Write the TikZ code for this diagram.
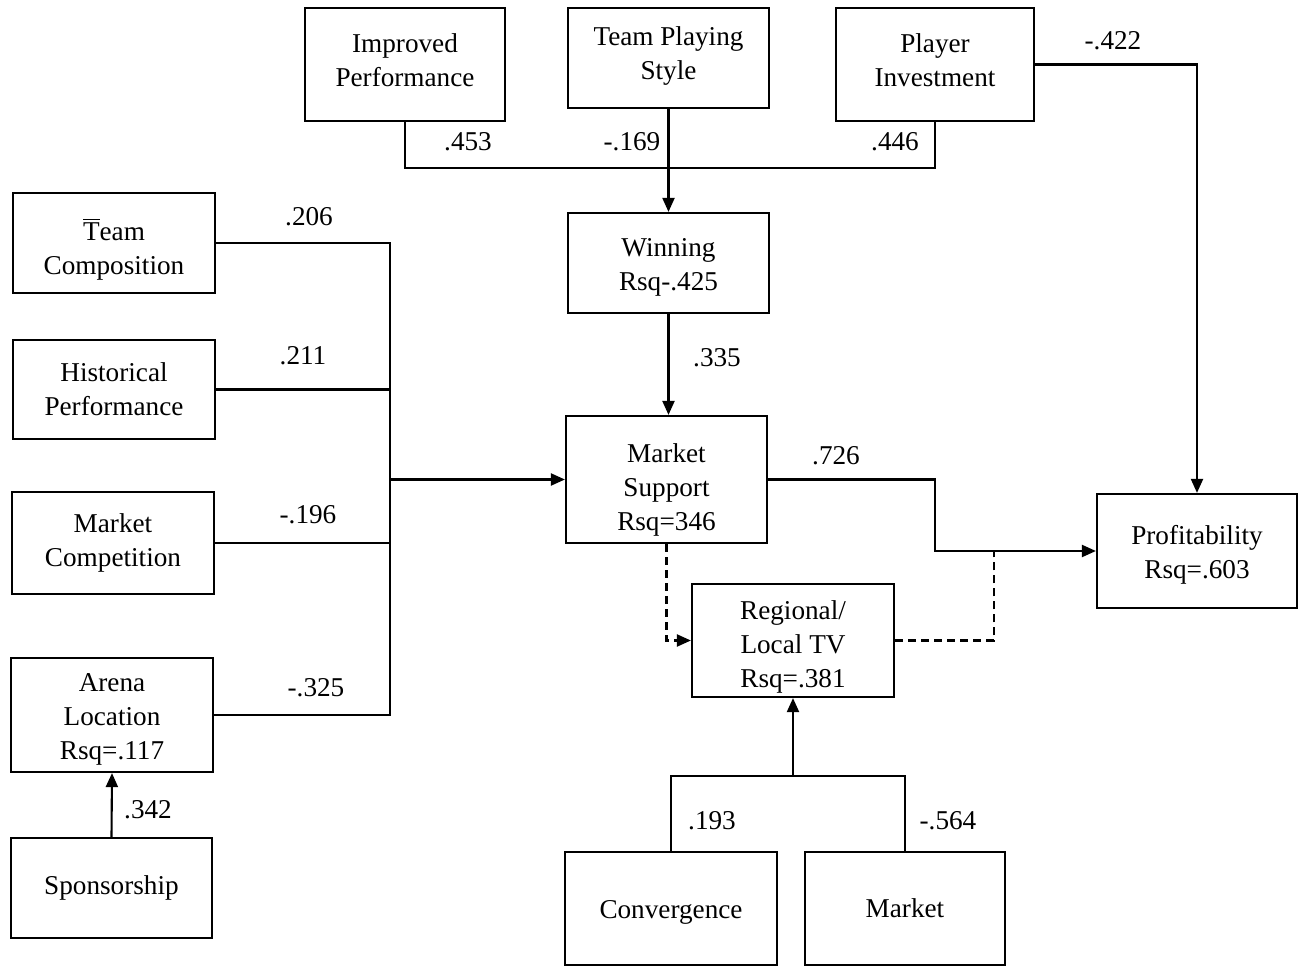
\documentclass[tikz,border=0pt]{standalone}
\usepackage{fontspec}
\setmainfont{Liberation Serif}
\usetikzlibrary{arrows.meta}
\begin{document}
\begin{tikzpicture}[x=0.5pt,y=-0.5pt,
  txt/.style={align=center, inner sep=0pt, font=\fontsize{13.6}{17}\selectfont},
  box/.style={draw, line width=1.1pt, inner sep=0pt},
  lbl/.style={font=\fontsize{13.6}{17}\selectfont, inner sep=1pt},
  link/.style={line width=1.05pt},
  tip/.style={-{Triangle[length=7pt,width=6pt]}},
  arr/.style={link, tip},
  dsh/.style={link, dash pattern=on 4pt off 2.5pt}]
\useasboundingbox (0,0) rectangle (1303,968);

% exogenous drivers of winning
\node[box, minimum width=100pt, minimum height=56.5pt,
  label={[txt,yshift=2pt]center:Improved\\Performance}] (ip) at (405,64.5) {};
\node[box, minimum width=100.5pt, minimum height=50pt,
  label={[txt,yshift=1pt]center:Team Playing\\Style}] (tps) at (668.5,58) {};
\node[box, minimum width=99pt, minimum height=56.5pt,
  label={[txt,yshift=2pt]center:Player\\Investment}] (pi) at (935,64.5) {};
\node[box, minimum width=100.5pt, minimum height=50pt,
  label={[txt,yshift=-2pt]center:Winning\\Rsq-.425}] (win) at (668.5,263) {};

% left column
\node[box, minimum width=101pt, minimum height=50pt,
  label={[txt,yshift=-3pt]center:\(\overline{\mbox{T}}\)eam\\Composition}] (tc) at (114,243) {};
\node[box, minimum width=101pt, minimum height=49.5pt,
  label={[txt]center:Historical\\Performance}] (hp) at (114,389.5) {};
\node[box, minimum width=101pt, minimum height=51pt,
  label={[txt]center:Market\\Competition}] (mc) at (113,543) {};
\node[box, minimum width=101pt, minimum height=57pt,
  label={[txt,yshift=-2pt]center:Arena\\Location\\Rsq=.117}] (al) at (112,715) {};
\node[box, minimum width=100.5pt, minimum height=50pt,
  label={[txt]center:Sponsorship}] (sp) at (111.5,888) {};

% centre and right
\node[box, minimum width=100.5pt, minimum height=63.5pt,
  label={[txt,yshift=-5pt]center:Market\\Support\\Rsq=346}] (ms) at (666.5,479.5) {};
\node[box, minimum width=101pt, minimum height=56.5pt,
  label={[txt,yshift=-3pt]center:Regional/\\Local TV\\Rsq=.381}] (tv) at (793,640.5) {};
\node[box, minimum width=100pt, minimum height=57pt,
  label={[txt,yshift=-2pt]center:Profitability\\Rsq=.603}] (pr) at (1197,551) {};
\node[box, minimum width=106pt, minimum height=56.5pt,
  label={[txt,yshift=-2pt]center:Convergence}] (cv) at (671,908.5) {};
\node[box, minimum width=100pt, minimum height=56.5pt,
  label={[txt]center:Market}] (mk) at (905,908.5) {};

% junction points
\coordinate (topbus) at (668.5,168);
\coordinate (bus) at (390,479.5);
\coordinate (jn) at (935,551);
\coordinate (jd) at (994,551);
\coordinate (bb) at (793,776);

% paths into Winning
\draw[link] (ip.south) |- (topbus) -| (pi.south);
\draw[arr] (tps.south) -- (win.north);
\draw[arr] (win.south) -- (win.south |- ms.north);

% paths into Market Support
\draw[link] (tc.east) -| (bus);
\draw[link] (al.east) -| (bus);
\draw[link] (hp.east) -- (hp.east -| bus);
\draw[link] (mc.east) -- (mc.east -| bus);
\draw[arr] (bus) -- (ms.west);
\draw[arr] (sp.north) -- (al.south);

% paths into Profitability
\draw[arr] (pi.east) -| (pr.north);
\draw[arr] (ms.east) -| (jn) -- (pr.west);
\draw[dsh, tip] (ms.south) |- (tv.west);
\draw[dsh] (tv.east) -| (jd);

% paths into Regional/Local TV
\draw[link] (cv.north) |- (bb) -| (mk.north);
\draw[arr] (bb) -- (bb |- tv.south);

% coefficients
\node[lbl] (l1) at (468,142) {.453};
\node[lbl] (l2) at (632,142) {-.169};
\node[lbl] (l3) at (895,142) {.446};
\node[lbl] (l4) at (1113,41) {-.422};
\node[lbl] (l5) at (717,358) {.335};
\node[lbl] (l6) at (309,217) {.206};
\node[lbl] (l7) at (303,356) {.211};
\node[lbl] (l8) at (308,515) {-.196};
\node[lbl] (l9) at (316,688) {-.325};
\node[lbl] (l10) at (836,456) {.726};
\node[lbl] (l11) at (148,810) {.342};
\node[lbl] (l12) at (712,821) {.193};
\node[lbl] (l13) at (948,821) {-.564};
\end{tikzpicture}
\end{document}
